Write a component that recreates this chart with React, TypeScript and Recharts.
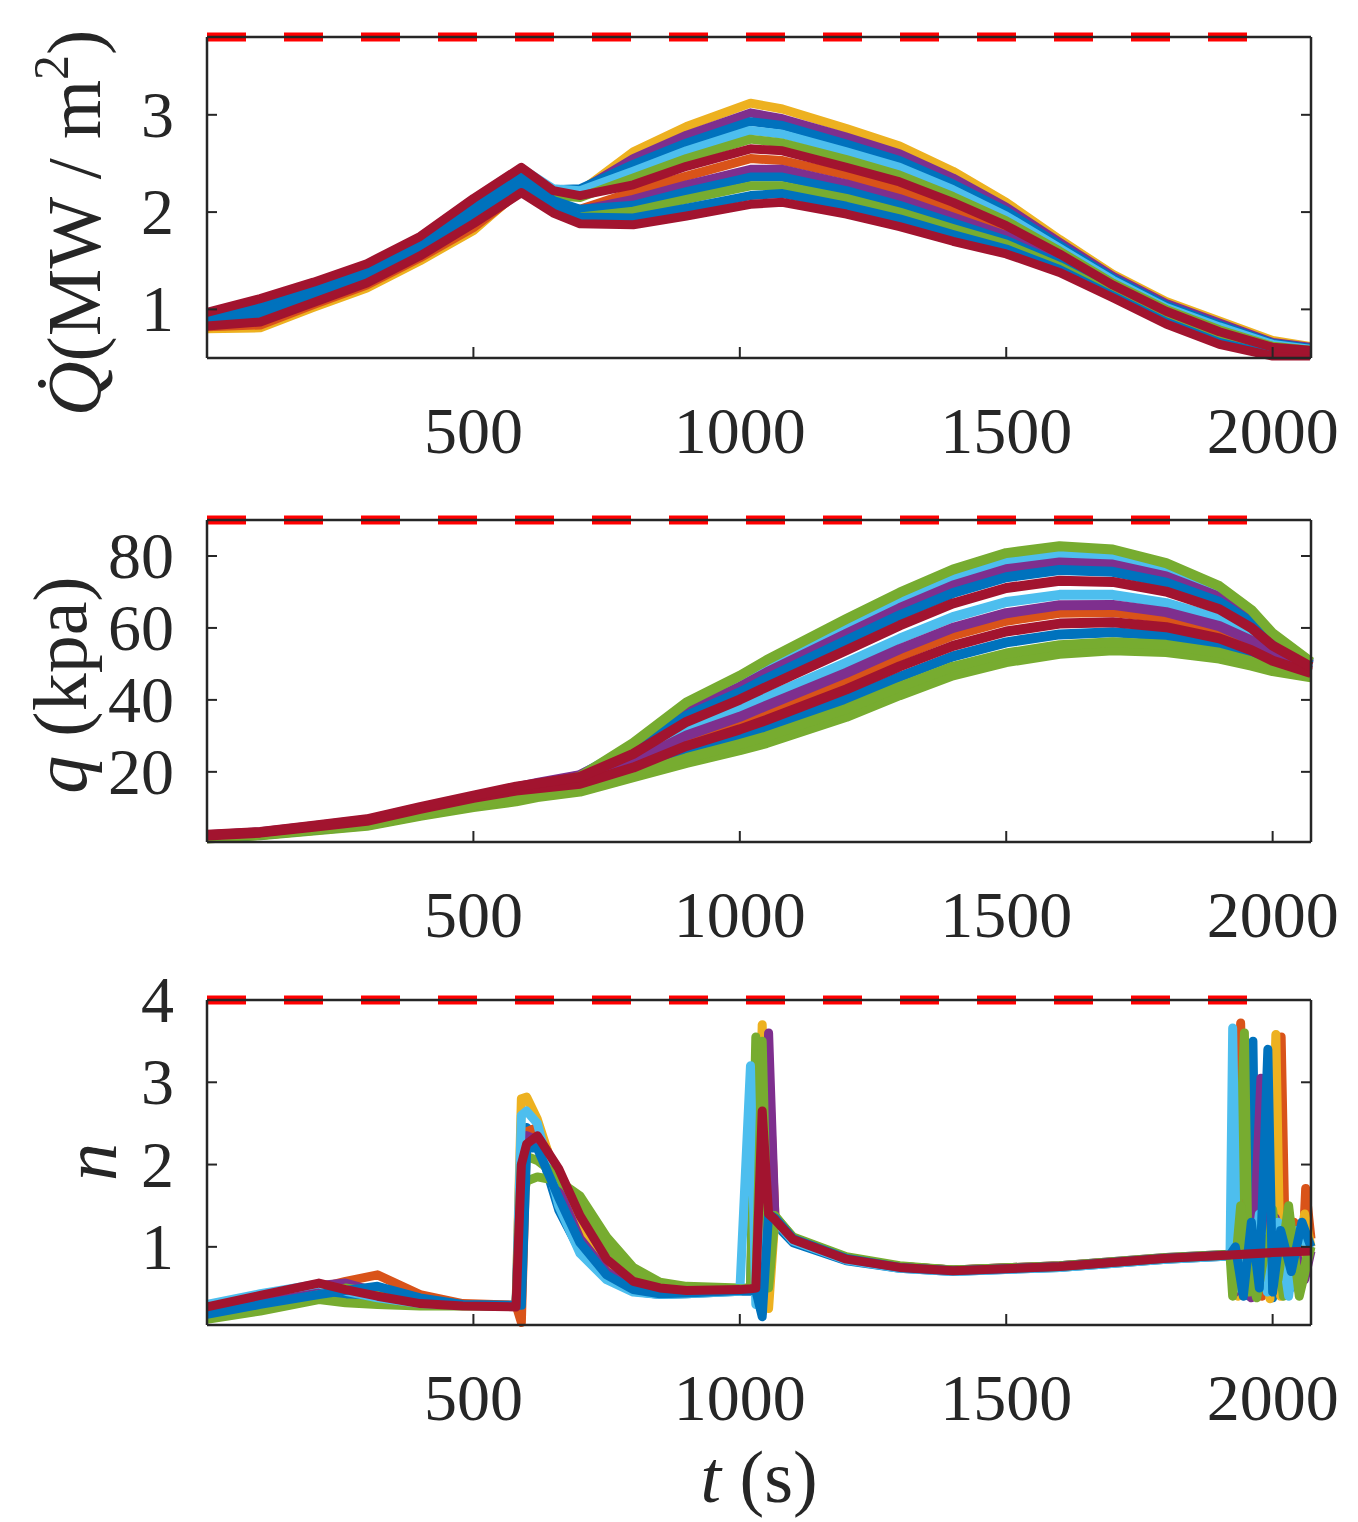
import { Line, LineChart, XAxis, YAxis } from 'recharts'

const W = 1358
const H = 1522
const AXIS = '#262626'
const SERIF = '"Liberation Serif", "Times New Roman", serif'
const PLOT_LEFT = 207
const PLOT_RIGHT = 1311

// MATLAB default colour order
const BLUE = '#0072BD'
const ORANGE = '#D95319'
const YELLOW = '#EDB120'
const PURPLE = '#7E2F8E'
const GREEN = '#77AC30'
const CYAN = '#4DBEEE'
const RED = '#A2142F'

const tTicks = [500, 1000, 1500, 2000]
const tDomain = [0, 2072]
const limitSpan = [0, 1955]

// ---- heat flux Q (MW/m2)
const heatTicks = [1, 2, 3]
const heatDomain = [0.5, 3.8]
const heatLimit = 3.8
const tHeat = [0, 100, 200, 300, 400, 500, 590, 650, 700, 800, 900, 1020, 1080, 1200, 1300, 1400, 1500, 1600, 1700, 1800, 1900, 2000, 2070]
const heatA = [0.8, 0.81, 1.02, 1.22, 1.5, 1.81, 2.24, 2.13, 2.21, 2.62, 2.88, 3.12, 3.06, 2.86, 2.68, 2.42, 2.1, 1.72, 1.36, 1.08, 0.88, 0.68, 0.62]
const heatB = [0.88, 0.95, 1.14, 1.33, 1.61, 1.96, 2.35, 2.19, 2.22, 2.55, 2.79, 3.02, 2.96, 2.77, 2.6, 2.35, 2.05, 1.69, 1.34, 1.06, 0.86, 0.66, 0.61]
const heatC = [0.94, 1.05, 1.23, 1.42, 1.7, 2.07, 2.43, 2.23, 2.24, 2.49, 2.71, 2.93, 2.89, 2.7, 2.53, 2.29, 2.01, 1.66, 1.32, 1.04, 0.84, 0.65, 0.6]
const heatD = [0.95, 1.08, 1.25, 1.45, 1.73, 2.11, 2.45, 2.24, 2.22, 2.42, 2.63, 2.84, 2.8, 2.62, 2.46, 2.23, 1.96, 1.63, 1.3, 1.02, 0.82, 0.64, 0.59]
const heatE = [0.9, 0.99, 1.18, 1.37, 1.65, 2.01, 2.36, 2.17, 2.15, 2.35, 2.55, 2.75, 2.71, 2.54, 2.38, 2.16, 1.91, 1.6, 1.27, 1.0, 0.79, 0.62, 0.58]
const heatF = [0.82, 0.84, 1.05, 1.25, 1.53, 1.84, 2.22, 2.05, 2.03, 2.21, 2.37, 2.55, 2.53, 2.38, 2.22, 2.02, 1.81, 1.53, 1.23, 0.95, 0.75, 0.59, 0.57]
const heatG = [0.86, 0.92, 1.11, 1.31, 1.59, 1.93, 2.27, 2.07, 2.02, 2.13, 2.28, 2.44, 2.44, 2.29, 2.14, 1.95, 1.76, 1.5, 1.2, 0.93, 0.72, 0.58, 0.56]
const heatH = [0.92, 1.02, 1.2, 1.4, 1.68, 2.04, 2.36, 2.12, 2.03, 2.07, 2.21, 2.36, 2.36, 2.22, 2.07, 1.89, 1.71, 1.47, 1.19, 0.91, 0.71, 0.56, 0.55]
const heatI = [0.84, 0.89, 1.09, 1.28, 1.56, 1.89, 2.23, 2.03, 1.95, 2.01, 2.13, 2.27, 2.27, 2.14, 2.0, 1.83, 1.67, 1.44, 1.16, 0.89, 0.68, 0.55, 0.54]
const heatJ = [0.89, 0.96, 1.15, 1.35, 1.63, 1.98, 2.29, 2.05, 1.95, 1.94, 2.04, 2.17, 2.19, 2.06, 1.93, 1.77, 1.62, 1.41, 1.14, 0.87, 0.66, 0.53, 0.53]
const heatK = [0.83, 0.87, 1.07, 1.27, 1.55, 1.88, 2.2, 1.99, 1.88, 1.87, 1.96, 2.08, 2.1, 1.98, 1.85, 1.7, 1.57, 1.38, 1.12, 0.85, 0.64, 0.52, 0.52]
const heatL = [0.97, 1.11, 1.28, 1.47, 1.75, 2.14, 2.46, 2.22, 2.17, 2.28, 2.47, 2.65, 2.63, 2.46, 2.31, 2.1, 1.86, 1.57, 1.25, 0.98, 0.77, 0.61, 0.58]

// ---- dynamic pressure q (kpa)
const pressTicks = [20, 40, 60, 80]
const pressDomain = [0.5, 90]
const pressLimit = 90
const tPress = [0, 100, 200, 300, 400, 500, 580, 620, 700, 800, 900, 1000, 1050, 1200, 1300, 1400, 1500, 1600, 1700, 1800, 1900, 1960, 2000, 2072]
const pressA = [1.5, 2.4, 3.7, 5.0, 7.8, 10.2, 11.8, 13.0, 14.5, 18.5, 22.5, 26.0, 28.0, 35.3, 41.3, 46.8, 50.5, 52.8, 53.8, 53.3, 51.5, 49.5, 48.0, 46.3]
const pressB = [2.1, 2.9, 4.4, 6.0, 9.1, 12.0, 14.6, 16.3, 19.0, 27.3, 38.1, 45.3, 49.4, 60.6, 67.8, 74.1, 78.7, 80.6, 79.8, 76.3, 70.2, 63.9, 57.8, 50.2]
const pressC = [2.4, 3.2, 4.9, 6.6, 10.0, 13.1, 15.7, 16.9, 19.1, 26.6, 36.8, 43.6, 47.6, 58.4, 65.5, 71.8, 76.3, 78.2, 77.6, 74.3, 68.6, 62.7, 56.9, 49.9]
const pressD = [1.9, 2.8, 4.2, 5.7, 8.8, 11.5, 14.0, 15.7, 18.2, 25.9, 35.6, 42.1, 45.9, 56.5, 63.5, 69.7, 74.1, 76.1, 75.6, 72.6, 67.2, 61.6, 56.2, 49.6]
const pressE = [1.6, 2.5, 3.8, 5.2, 8.0, 10.5, 13.2, 15.5, 18.7, 28.0, 39.3, 46.7, 51.0, 62.5, 69.8, 76.2, 80.8, 82.7, 81.8, 78.0, 71.6, 65.0, 58.5, 50.5]
const pressF = [1.8, 2.7, 4.1, 5.5, 8.5, 11.2, 13.2, 14.5, 16.4, 22.1, 28.9, 33.9, 36.7, 45.6, 52.1, 58.0, 62.0, 64.2, 64.4, 62.7, 59.1, 55.4, 52.0, 47.9]
const pressG = [2.2, 3.0, 4.6, 6.3, 9.5, 12.4, 14.7, 15.8, 17.7, 23.7, 31.7, 37.4, 40.7, 50.3, 57.0, 63.0, 67.2, 69.2, 69.2, 66.9, 62.6, 58.0, 53.8, 48.6]
const pressH = [2.1, 2.9, 4.5, 6.1, 9.2, 12.1, 14.3, 15.4, 17.1, 22.8, 30.1, 35.3, 38.4, 47.5, 54.1, 60.0, 64.1, 66.3, 66.4, 64.4, 60.5, 56.5, 52.7, 48.2]
const pressI = [1.7, 2.6, 4.0, 5.4, 8.3, 10.8, 12.7, 13.9, 15.5, 20.2, 25.5, 29.7, 32.1, 40.2, 46.4, 52.1, 56.0, 58.2, 58.8, 57.8, 55.1, 52.3, 49.9, 47.1]
const pressJ = [1.6, 2.5, 3.9, 5.3, 8.2, 10.7, 12.4, 13.5, 15.0, 19.3, 23.8, 27.7, 29.8, 37.5, 43.6, 49.2, 52.9, 55.2, 56.0, 55.3, 53.1, 50.7, 48.8, 46.6]
const pressK = [2.3, 3.1, 4.7, 6.4, 9.7, 12.8, 14.8, 15.4, 16.7, 21.2, 27.2, 31.8, 34.4, 42.9, 49.3, 55.0, 59.0, 61.2, 61.6, 60.2, 57.1, 53.8, 50.9, 47.5]
const pressL = [2.5, 3.3, 5.0, 6.8, 10.2, 13.4, 15.9, 16.8, 18.6, 25.0, 33.9, 40.1, 43.6, 53.8, 60.7, 66.8, 71.1, 73.1, 72.8, 70.1, 65.2, 60.0, 55.1, 49.2]

// ---- load factor n
const loadTicks = [1, 2, 3, 4]
const loadDomain = [0.05, 4]
const loadLimit = 4
const tLoad = [0, 100, 210, 260, 320, 400, 480, 580, 590, 600, 620, 660, 700, 750, 800, 850, 900, 1000, 1020, 1030, 1042, 1054, 1066, 1100, 1200, 1300, 1400, 1600, 1800, 1920]
const loadBlue = [0.2, 0.33, 0.45, 0.4, 0.34, 0.3, 0.29, 0.29, 1.6, 2.45, 2.3, 1.45, 0.95, 0.62, 0.46, 0.42, 0.43, 0.46, 0.46, 3.3, 0.22, 1.3, 1.28, 1.05, 0.83, 0.74, 0.7, 0.75, 0.85, 0.89]
const tailTBlue = [1930, 1945, 1955, 1963, 1970, 1985, 2000, 2015, 2035, 2050, 2072]
const tailBlue = [0.6, 1.4, 0.4, 3.5, 0.45, 1.3, 0.38, 1.1, 0.5, 1.0, 1.05]
const loadOrange = [0.22, 0.36, 0.5, 0.58, 0.66, 0.42, 0.31, 0.29, 0.08, 2.4, 2.45, 1.85, 1.25, 0.8, 0.55, 0.47, 0.45, 0.47, 0.47, 0.47, 0.2, 3.2, 1.35, 1.1, 0.86, 0.76, 0.72, 0.77, 0.86, 0.9]
const tailTOrange = [1930, 1940, 1950, 1965, 1980, 1995, 2016, 2025, 2040, 2055, 2062, 2072]
const tailOrange = [1.2, 3.72, 0.55, 1.5, 0.4, 1.2, 3.55, 0.6, 1.3, 0.7, 1.71, 1.1]
const loadYellow = [0.16, 0.3, 0.44, 0.52, 0.48, 0.34, 0.29, 0.28, 2.8, 2.82, 2.55, 1.75, 1.2, 0.75, 0.52, 0.45, 0.44, 0.47, 0.47, 0.47, 3.7, 0.25, 1.36, 1.08, 0.85, 0.75, 0.71, 0.76, 0.86, 0.9]
const tailTYellow = [1925, 1935, 1950, 1965, 1980, 1995, 2006, 2015, 2030, 2045, 2060, 2072]
const tailYellow = [1.1, 0.4, 1.3, 0.6, 1.2, 0.37, 3.58, 0.4, 1.25, 0.55, 1.4, 1.0]
const loadPurple = [0.25, 0.39, 0.53, 0.56, 0.45, 0.33, 0.29, 0.28, 2.2, 2.35, 2.3, 1.7, 1.1, 0.7, 0.5, 0.44, 0.44, 0.47, 0.47, 0.47, 0.47, 3.6, 1.34, 1.09, 0.86, 0.76, 0.72, 0.77, 0.87, 0.91]
const tailTPurple = [1930, 1945, 1960, 1978, 1990, 2005, 2020, 2040, 2060, 2072]
const tailPurple = [0.45, 1.1, 0.38, 3.05, 0.6, 1.35, 0.5, 1.0, 0.6, 0.95]
const loadGreen = [0.12, 0.22, 0.36, 0.32, 0.3, 0.28, 0.28, 0.28, 1.5, 1.8, 1.85, 1.8, 1.62, 1.12, 0.75, 0.57, 0.52, 0.5, 0.5, 3.55, 0.4, 1.4, 1.37, 1.12, 0.88, 0.77, 0.72, 0.77, 0.87, 0.91]
const tailTGreen = [1930, 1947, 1955, 1970, 1985, 2000, 2020, 2035, 2050, 2065, 2072]
const tailGreen = [0.7, 3.6, 0.45, 1.2, 0.5, 1.45, 0.4, 1.2, 0.45, 0.9, 1.0]
const loadCyan = [0.3, 0.43, 0.55, 0.46, 0.38, 0.31, 0.29, 0.28, 2.6, 2.65, 2.5, 1.5, 0.92, 0.6, 0.45, 0.42, 0.43, 0.46, 3.2, 0.3, 1.5, 1.38, 1.32, 1.07, 0.84, 0.74, 0.7, 0.75, 0.85, 0.89]
const tailTCyan = [1925, 1933, 1945, 1960, 1975, 1990, 2010, 2030, 2045, 2072]
const tailCyan = [3.66, 0.5, 1.25, 0.6, 1.4, 0.45, 1.3, 0.4, 1.2, 0.95]
const loadGreen2 = [0.14, 0.26, 0.4, 0.5, 0.44, 0.32, 0.29, 0.28, 2.0, 2.1, 2.05, 1.85, 1.5, 1.0, 0.68, 0.55, 0.5, 0.49, 0.49, 0.49, 3.5, 0.5, 1.38, 1.11, 0.87, 0.76, 0.72, 0.76, 0.86, 0.9]
const tailTGreen2 = [1925, 1940, 1955, 1970, 1990, 2010, 2030, 2050, 2072]
const tailGreen2 = [0.4, 1.5, 0.7, 0.38, 1.1, 0.6, 1.5, 0.4, 1.0]
const loadBlue2 = [0.18, 0.3, 0.42, 0.47, 0.52, 0.38, 0.3, 0.29, 0.29, 2.2, 2.2, 1.6, 1.05, 0.66, 0.48, 0.43, 0.44, 0.47, 0.47, 0.47, 0.15, 1.4, 1.35, 1.1, 0.86, 0.75, 0.71, 0.76, 0.86, 0.9]
const tailTBlue2 = [1930, 1945, 1960, 1975, 1991, 2000, 2015, 2035, 2055, 2072]
const tailBlue2 = [1.0, 0.4, 1.3, 0.5, 3.4, 0.45, 1.2, 0.7, 1.3, 1.0]
const loadRed = [0.27, 0.41, 0.56, 0.48, 0.4, 0.31, 0.28, 0.27, 2.0, 2.25, 2.35, 1.95, 1.38, 0.85, 0.58, 0.5, 0.47, 0.48, 0.49, 0.5, 2.65, 1.4, 1.33, 1.09, 0.85, 0.75, 0.71, 0.76, 0.86, 0.9]
const tailTRed = [2000, 2072]
const tailRed = [0.93, 0.95]

type Run = { color: string; t: number[]; v: number[] }

const pts = (t: number[], v: number[]) => t.map((x, i) => ({ t: x, v: v[i] }))

const heatRuns: Run[] = [
  { color: YELLOW, t: tHeat, v: heatA },
  { color: PURPLE, t: tHeat, v: heatB },
  { color: BLUE, t: tHeat, v: heatC },
  { color: CYAN, t: tHeat, v: heatD },
  { color: GREEN, t: tHeat, v: heatE },
  { color: ORANGE, t: tHeat, v: heatF },
  { color: PURPLE, t: tHeat, v: heatG },
  { color: BLUE, t: tHeat, v: heatH },
  { color: GREEN, t: tHeat, v: heatI },
  { color: BLUE, t: tHeat, v: heatJ },
  { color: RED, t: tHeat, v: heatK },
  { color: RED, t: tHeat, v: heatL },
]

const pressRuns: Run[] = [
  { color: GREEN, t: tPress, v: pressA },
  { color: CYAN, t: tPress, v: pressB },
  { color: PURPLE, t: tPress, v: pressC },
  { color: BLUE, t: tPress, v: pressD },
  { color: GREEN, t: tPress, v: pressE },
  { color: ORANGE, t: tPress, v: pressF },
  { color: CYAN, t: tPress, v: pressG },
  { color: PURPLE, t: tPress, v: pressH },
  { color: BLUE, t: tPress, v: pressI },
  { color: GREEN, t: tPress, v: pressJ },
  { color: RED, t: tPress, v: pressK },
  { color: RED, t: tPress, v: pressL },
]

const loadRuns: Run[] = [
  { color: BLUE, t: [...tLoad, ...tailTBlue], v: [...loadBlue, ...tailBlue] },
  { color: ORANGE, t: [...tLoad, ...tailTOrange], v: [...loadOrange, ...tailOrange] },
  { color: YELLOW, t: [...tLoad, ...tailTYellow], v: [...loadYellow, ...tailYellow] },
  { color: PURPLE, t: [...tLoad, ...tailTPurple], v: [...loadPurple, ...tailPurple] },
  { color: GREEN, t: [...tLoad, ...tailTGreen], v: [...loadGreen, ...tailGreen] },
  { color: CYAN, t: [...tLoad, ...tailTCyan], v: [...loadCyan, ...tailCyan] },
  { color: GREEN, t: [...tLoad, ...tailTGreen2], v: [...loadGreen2, ...tailGreen2] },
  { color: BLUE, t: [...tLoad, ...tailTBlue2], v: [...loadBlue2, ...tailBlue2] },
  { color: RED, t: [...tLoad, ...tailTRed], v: [...loadRed, ...tailRed] },
]

const tickFont = { fontFamily: SERIF, fontSize: 66, fill: AXIS }

function BottomTick(p: any) {
  return (
    <g>
      <line x1={p.x} x2={p.x} y1={p.y} y2={p.y - 11} stroke={AXIS} strokeWidth={2} />
      <text x={p.x} y={p.y + 95} textAnchor="middle" {...tickFont}>{p.payload.value}</text>
    </g>
  )
}

function TopTick(p: any) {
  return <line x1={p.x} x2={p.x} y1={p.y} y2={p.y + 11} stroke={AXIS} strokeWidth={2} />
}

function LeftTick(p: any) {
  return (
    <g>
      <line x1={p.x} x2={p.x + 10} y1={p.y} y2={p.y} stroke={AXIS} strokeWidth={2} />
      <text x={p.x - 33} y={p.y + 22} textAnchor="end" {...tickFont}>{p.payload.value}</text>
    </g>
  )
}

function RightTick(p: any) {
  return <line x1={p.x} x2={p.x - 10} y1={p.y} y2={p.y} stroke={AXIS} strokeWidth={2} />
}

type PanelProps = {
  top: number
  bottom: number
  domain: number[]
  ticks: number[]
  limit: number
  runs: Run[]
  width: number
}

function Panel({ top, bottom, domain, ticks, limit, runs, width }: PanelProps) {
  const axisLine = { stroke: AXIS, strokeWidth: 2.5 }
  const limitPts = pts(limitSpan, [limit, limit])
  // axes are 1px thick bands so that Recharts draws them; margins absorb that pixel
  return (
    <div style={{ position: 'absolute', left: 0, top: 0 }}>
      <LineChart
        width={W}
        height={H}
        margin={{ top: top - 1, bottom: H - bottom - 1, left: PLOT_LEFT - 1, right: W - PLOT_RIGHT - 1 }}
      >
        <XAxis
          xAxisId="b"
          dataKey="t"
          type="number"
          domain={tDomain}
          ticks={tTicks}
          interval={0}
          height={1}
          tickSize={0}
          tickMargin={0}
          tickLine={false}
          axisLine={axisLine}
          tick={BottomTick}
        />
        <XAxis
          xAxisId="top"
          orientation="top"
          type="number"
          domain={tDomain}
          ticks={tTicks}
          allowDataOverflow
          interval={0}
          height={1}
          tickSize={0}
          tickMargin={0}
          tickLine={false}
          axisLine={axisLine}
          tick={TopTick}
        />
        <YAxis
          yAxisId="l"
          type="number"
          domain={domain}
          ticks={ticks}
          interval={0}
          width={1}
          tickSize={0}
          tickMargin={0}
          tickLine={false}
          axisLine={axisLine}
          tick={LeftTick}
        />
        <YAxis
          yAxisId="r"
          orientation="right"
          type="number"
          domain={domain}
          ticks={ticks}
          allowDataOverflow
          interval={0}
          width={1}
          tickSize={0}
          tickMargin={0}
          tickLine={false}
          axisLine={axisLine}
          tick={RightTick}
        />
        {runs.map((r, i) => (
          <Line
            key={i}
            xAxisId="b"
            yAxisId="l"
            data={pts(r.t, r.v)}
            dataKey="v"
            type="linear"
            stroke={r.color}
            strokeWidth={width}
            strokeLinejoin="round"
            dot={false}
            activeDot={false}
            isAnimationActive={false}
          />
        ))}
        <Line
          xAxisId="b"
          yAxisId="l"
          data={limitPts}
          dataKey="v"
          type="linear"
          stroke="#FF0000"
          strokeWidth={9}
          strokeDasharray="39 38"
          dot={false}
          activeDot={false}
          isAnimationActive={false}
        />
      </LineChart>
    </div>
  )
}

export default function App() {
  const title = { fontFamily: SERIF, fontSize: 76, fill: AXIS }
  return (
    <div style={{ position: 'absolute', left: 0, top: 0, width: W, height: H, background: '#fff' }}>
      <Panel top={37} bottom={358} domain={heatDomain} ticks={heatTicks} limit={heatLimit} runs={heatRuns} width={9} />
      <Panel top={520} bottom={842} domain={pressDomain} ticks={pressTicks} limit={pressLimit} runs={pressRuns} width={10} />
      <Panel top={1000} bottom={1325} domain={loadDomain} ticks={loadTicks} limit={loadLimit} runs={loadRuns} width={9} />
      <svg width={W} height={H} style={{ position: 'absolute', left: 0, top: 0, pointerEvents: 'none' }}>
        <text transform="translate(100,223) rotate(-90)" textAnchor="middle" {...title}>
          <tspan fontStyle="italic">{'Q\u0307'}</tspan>
          <tspan>(MW / m</tspan>
          <tspan fontSize={50} dy={-32}>2</tspan>
          <tspan dy={32}>)</tspan>
        </text>
        <text transform="translate(86,685) rotate(-90)" textAnchor="middle" {...title}>
          <tspan fontStyle="italic">q</tspan>
          <tspan> (kpa)</tspan>
        </text>
        <text transform="translate(116,1162) rotate(-90)" textAnchor="middle" {...title}>
          <tspan fontStyle="italic">n</tspan>
        </text>
        <text x={759} y={1502} textAnchor="middle" fontFamily={SERIF} fontSize={74} fill={AXIS}>
          <tspan fontStyle="italic">t</tspan>
          <tspan> (s)</tspan>
        </text>
      </svg>
    </div>
  )
}
